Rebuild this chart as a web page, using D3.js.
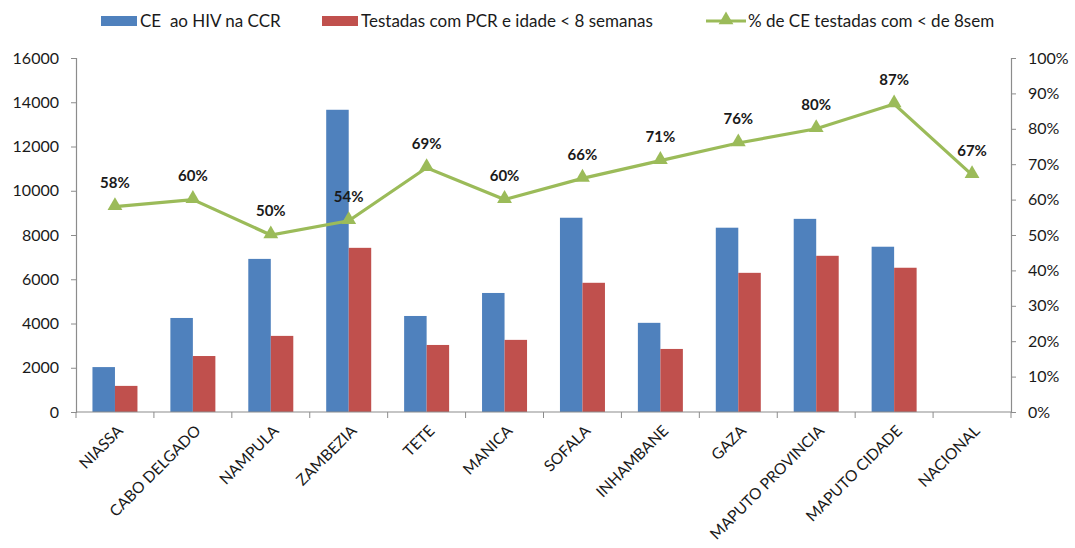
<!DOCTYPE html>
<html>
<head>
<meta charset="utf-8">
<script src="https://cdn.jsdelivr.net/npm/d3@7"></script>
<style>
  body { margin: 0; background: #fff; overflow: hidden; }
  svg { display: block; }
  svg text { font-family: Lato, "Open Sans", sans-serif; fill: #1a1a1a; }
</style>
</head>
<body>
<div id="chart"></div>
<script>
/* data */
var provinces = ["NIASSA", "CABO DELGADO", "NAMPULA", "ZAMBEZIA", "TETE", "MANICA",
        "SOFALA", "INHAMBANE", "GAZA", "MAPUTO PROVINCIA", "MAPUTO CIDADE", "NACIONAL"],
    ceHiv = [2030, 4250, 6920, 13660, 4340, 5380, 8780, 4030, 8330, 8730, 7470, null],
    testadas = [1180, 2530, 3440, 7420, 3030, 3260, 5840, 2850, 6290, 7060, 6520, null],
    pctTestadas = [0.58, 0.60, 0.50, 0.54, 0.69, 0.60, 0.66, 0.71, 0.76, 0.80, 0.87, 0.67],
    leftTicks = [0, 2000, 4000, 6000, 8000, 10000, 12000, 14000, 16000],
    rightTicks = [0, 0.1, 0.2, 0.3, 0.4, 0.5, 0.6, 0.7, 0.8, 0.9, 1];

var seriesNames = ["CE \u00a0ao HIV na CCR", "Testadas com PCR e idade < 8 semanas", "% de CE testadas com < de 8sem"];

/* layout */
var width = 1075,
    height = 548,
    margin = { top: 58, right: 64, bottom: 136, left: 76 },
    innerWidth = width - margin.left - margin.right,
    innerHeight = height - margin.top - margin.bottom,
    colBlue = "#4f81bd",
    colRed = "#c0504d",
    colGreen = "#9bbb59",
    axisCol = "#8c8c8c";

var svg = d3.select("#chart").append("svg")
    .attr("width", width)
    .attr("height", height),
    main = svg.append("g")
    .attr("transform", "translate(" + margin.left + "," + margin.top + ")");

/* scales */
var x = d3.scaleBand().domain(provinces).range([0, innerWidth]),
    xSub = d3.scaleBand().domain([0, 1]).range([x.bandwidth() / 2 - 22.5, x.bandwidth() / 2 + 22.5]),
    yLeft = d3.scaleLinear().domain([0, 16000]).range([innerHeight, 0]),
    yRight = d3.scaleLinear().domain([0, 1]).range([innerHeight, 0]);

/* bars */
var groups = main.selectAll(".grp")
    .data(provinces)
    .enter().append("g")
    .attr("class", "grp")
    .attr("transform", d => "translate(" + x(d) + ",0)");

[ceHiv, testadas].forEach(function (vals, si) {
    groups.filter((d, i) => vals[i] != null)
        .append("rect")
        .attr("x", xSub(si))
        .attr("width", xSub.bandwidth())
        .attr("y", d => yLeft(vals[provinces.indexOf(d)]))
        .attr("height", d => innerHeight - yLeft(vals[provinces.indexOf(d)]))
        .attr("fill", si === 0 ? colBlue : colRed);
});

/* axes */
var axL = main.append("g")
    .call(d3.axisLeft(yLeft).tickValues(leftTicks).tickSize(5).tickPadding(12).tickFormat(d3.format("d")));
var axR = main.append("g")
    .attr("transform", "translate(" + innerWidth + ",0)")
    .call(d3.axisRight(yRight).tickValues(rightTicks).tickSize(5).tickPadding(12).tickFormat(d3.format(".0%")));

// bottom axis: baseline plus category boundary ticks
var axB = main.append("g")
    .attr("transform", "translate(0," + innerHeight + ")");
axB.append("line")
    .attr("x1", 0)
    .attr("x2", innerWidth)
    .attr("stroke", axisCol)
    .attr("stroke-width", 1.2);
axB.selectAll(".bound")
    .data(d3.range(provinces.length + 1))
    .enter().append("line")
    .attr("class", "bound")
    .attr("x1", i => i * x.step())
    .attr("x2", i => i * x.step())
    .attr("y1", 0)
    .attr("y2", 6)
    .attr("stroke", axisCol);

[axL, axR].forEach(function (a) {
    a.selectAll("path.domain").attr("stroke", axisCol).attr("stroke-width", 1.2);
    a.selectAll(".tick line").attr("stroke", axisCol);
    a.selectAll(".tick text").style("font-size", "16px").attr("fill", "#1a1a1a");
});

// category labels
main.append("g").selectAll("text")
    .data(provinces)
    .enter().append("text")
    .attr("transform", d => "translate(" + (x(d) + x.bandwidth() / 2 + 5) + "," + (innerHeight + 16) + ") rotate(-45)")
    .attr("text-anchor", "end")
    .attr("dy", "0.35em")
    .style("font-size", "15.5px")
    .text(d => d);

/* line */
var line = d3.line()
    .x((d, i) => x(provinces[i]) + x.bandwidth() / 2)
    .y(d => yRight(d));

main.append("path")
    .datum(pctTestadas)
    .attr("d", line)
    .attr("fill", "none")
    .attr("stroke", colGreen)
    .attr("stroke-width", 3.2);

var tri = d3.symbol().type(d3.symbolTriangle).size(95);
main.selectAll(".marker")
    .data(pctTestadas)
    .enter().append("path")
    .attr("class", "marker")
    .attr("d", tri)
    .attr("fill", colGreen)
    .attr("transform", (d, i) => "translate(" + (x(provinces[i]) + x.bandwidth() / 2) + "," + (yRight(d) - 1) + ")");

main.selectAll(".lbl")
    .data(pctTestadas)
    .enter().append("text")
    .attr("class", "lbl")
    .attr("x", (d, i) => x(provinces[i]) + x.bandwidth() / 2)
    .attr("y", d => yRight(d) - 24)
    .attr("dy", "0.35em")
    .attr("text-anchor", "middle")
    .style("font-size", "15px")
    .style("font-weight", "bold")
    .text(d => d3.format(".0%")(d));

/* legend */
var legend = svg.append("g").attr("transform", "translate(0,21)");
var lgdItems = [
    { x: 101, name: seriesNames[0], type: "rect", col: colBlue },
    { x: 322, name: seriesNames[1], type: "rect", col: colRed },
    { x: 706, name: seriesNames[2], type: "line", col: colGreen }
];
lgdItems.forEach(function (it) {
    var g = legend.append("g").attr("transform", "translate(" + it.x + ",0)");
    if (it.type === "rect") {
        g.append("rect").attr("x", 0).attr("y", -5).attr("width", 36).attr("height", 10).attr("fill", it.col);
        g.append("text").attr("x", 39).attr("y", 0).attr("dy", "0.35em").style("font-size", "17px").text(it.name);
    } else {
        g.append("line").attr("x1", 0).attr("x2", 40).attr("y1", 0).attr("y2", 0)
            .attr("stroke", it.col).attr("stroke-width", 3.2);
        g.append("path").attr("d", tri).attr("fill", it.col).attr("transform", "translate(20,-1)");
        g.append("text").attr("x", 42).attr("y", 0).attr("dy", "0.35em").style("font-size", "17px").text(it.name);
    }
});
</script>
</body>
</html>
